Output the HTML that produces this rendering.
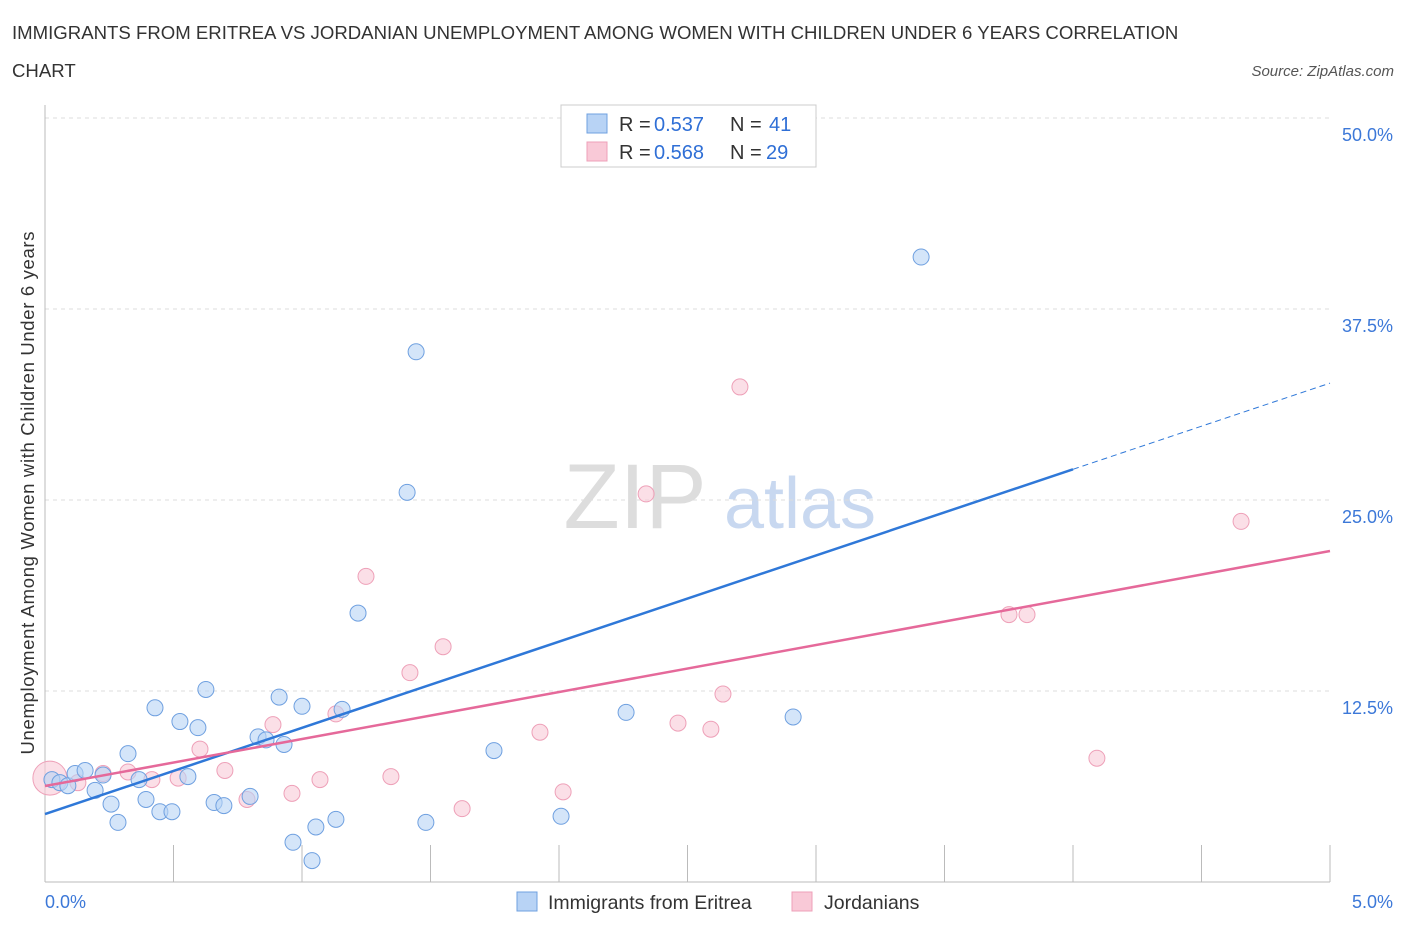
<!DOCTYPE html>
<html><head><meta charset="utf-8"><style>
body{margin:0;background:#fff;font-family:"Liberation Sans",sans-serif;}
svg text{font-family:"Liberation Sans",sans-serif;}
</style></head><body>
<svg id="c" width="1406" height="930" xmlns="http://www.w3.org/2000/svg">
<text x="12" y="39" font-size="18.6" fill="#333">IMMIGRANTS FROM ERITREA VS JORDANIAN UNEMPLOYMENT AMONG WOMEN WITH CHILDREN UNDER 6 YEARS CORRELATION</text>
<text x="12" y="77" font-size="18.6" fill="#333">CHART</text>
<text x="1394" y="76" font-size="15" fill="#555" font-style="italic" text-anchor="end">Source: ZipAtlas.com</text>
<text x="34" y="493" font-size="18.5" fill="#333" text-anchor="middle" textLength="523" transform="rotate(-90 34 493)">Unemployment Among Women with Children Under 6 years</text>
<g><text x="635" y="528" font-size="92" fill="#ddd" font-family="Liberation Serif" text-anchor="middle">ZIP</text><text x="800" y="528" font-size="72" fill="#c8d8f0" text-anchor="middle">atlas</text></g>
<g id="grid"></g><g id="pts"></g><g id="lines"></g>
<g>
<rect x="561" y="105" width="255" height="62" fill="#fff" stroke="#ccc"/>
<rect x="587" y="114" width="20" height="19" fill="#b8d3f5" stroke="#6fa0e0"/>
<rect x="587" y="142" width="20" height="19" fill="#f9c9d7" stroke="#eea0b8"/>
<text x="619" y="131" font-size="20" fill="#333">R =</text><text x="654" y="131" font-size="20" fill="#2f6fd6">0.537</text>
<text x="730" y="131" font-size="20" fill="#333">N =</text><text x="769" y="131" font-size="20" fill="#2f6fd6">41</text>
<text x="619" y="159" font-size="20" fill="#333">R =</text><text x="654" y="159" font-size="20" fill="#2f6fd6">0.568</text>
<text x="730" y="159" font-size="20" fill="#333">N =</text><text x="766" y="159" font-size="20" fill="#2f6fd6">29</text>
</g>
<g>
<rect x="517" y="892" width="20" height="19" fill="#b8d3f5" stroke="#6fa0e0"/>
<text x="548" y="909" font-size="19.5" fill="#333">Immigrants from Eritrea</text>
<rect x="792" y="892" width="20" height="19" fill="#f9c9d7" stroke="#eea0b8"/>
<text x="824" y="909" font-size="19.5" fill="#333">Jordanians</text>
</g>
<text x="45" y="908" font-size="18" fill="#3c78d8">0.0%</text>
<text x="1393" y="908" font-size="18" fill="#3c78d8" text-anchor="end">5.0%</text>
</svg>
<script>
const yTicks=[12.5,25,37.5,50];
const yTickLabels=["12.5%","25.0%","37.5%","50.0%"];
const blueX=[0.027,0.058,0.089,0.117,0.156,0.195,0.226,0.257,0.284,0.323,0.366,0.393,0.428,0.447,0.494,0.525,0.556,0.595,0.626,0.658,0.696,0.798,0.829,0.860,0.911,0.930,0.965,1.0,1.039,1.054,1.132,1.156,1.218,1.409,1.444,1.482,1.747,2.008,2.261,2.911,3.409];
const blueY=[6.7,6.5,6.3,7.1,7.3,6.0,7.0,5.1,3.9,8.4,6.7,5.4,11.4,4.6,4.6,10.5,6.9,10.1,12.6,5.2,5.0,5.6,9.5,9.3,12.1,9.0,2.6,11.5,1.4,3.6,4.1,11.3,17.6,25.5,34.7,3.9,8.6,4.3,11.1,10.8,40.9];
const pinkX=[0.019,0.128,0.226,0.323,0.416,0.518,0.603,0.700,0.786,0.887,0.961,1.070,1.132,1.249,1.346,1.420,1.549,1.623,1.926,2.016,2.339,2.463,2.591,2.638,2.704,3.751,3.821,4.093,4.654];
const pinkY=[6.8,6.5,7.1,7.2,6.7,6.8,8.7,7.3,5.4,10.3,5.8,6.7,11.0,20.0,6.9,13.7,15.4,4.8,9.8,5.9,25.4,10.4,10.0,12.3,32.4,17.5,17.5,8.1,23.6];
const blueLine=[4.45,5.64]; const pinkLine=[6.28,3.076];
const X=v=>45+v*257, Y=v=>882-v*15.28;
const NS="http://www.w3.org/2000/svg";
function mk(p,t,a){const e=document.createElementNS(NS,t);for(const k in a)e.setAttribute(k,a[k]);p.appendChild(e);return e;}
const g=document.getElementById('grid');
yTicks.forEach((t,i)=>{
 const l=mk(g,'line',{x1:45,x2:1330,y1:Y(t),y2:Y(t),stroke:'#ddd','stroke-dasharray':'4,4'});
 
 
 const tx=mk(g,'text',{x:1393,y:Y(t)+23,'font-size':18,fill:'#3c78d8','text-anchor':'end'});tx.textContent=yTickLabels[i];
 
 
});
const ax=mk(g,'line',{x1:45,x2:1330,y1:882,y2:882,stroke:'#bbb'});


const ay=mk(g,'line',{x1:45,x2:45,y1:105,y2:882,stroke:'#bbb'});


for(let i=1;i<=10;i++){const tk=mk(g,'line',{x1:X(i*0.5),x2:X(i*0.5),y1:845,y2:882,stroke:'#bbb'});
 
 }
const P=document.getElementById('pts');
pinkX.forEach((x,i)=>{const c=mk(P,'circle',{cx:X(x),cy:Y(pinkY[i]),r:i==0?17:8,fill:'#f9c9d7','fill-opacity':0.6,stroke:'#eea0b8'});
 
 });
blueX.forEach((x,i)=>{const c=mk(P,'circle',{cx:X(x),cy:Y(blueY[i]),r:8,fill:'#b8d3f5','fill-opacity':0.6,stroke:'#6fa0e0'});
 
 });
const L=document.getElementById('lines');
const f=(l,x)=>l[0]+l[1]*x;
const b1=mk(L,'line',{x1:X(0),y1:Y(f(blueLine,0)),x2:X(4),y2:Y(f(blueLine,4)),stroke:'#2f78d8','stroke-width':2.5});


const b2=mk(L,'line',{x1:X(4),y1:Y(f(blueLine,4)),x2:X(5),y2:Y(f(blueLine,5)),stroke:'#2f78d8','stroke-width':1,'stroke-dasharray':'6,4'});


const p1=mk(L,'line',{x1:X(0),y1:Y(f(pinkLine,0)),x2:X(5),y2:Y(f(pinkLine,5)),stroke:'#e5699a','stroke-width':2.5});


</script>
</body></html>
